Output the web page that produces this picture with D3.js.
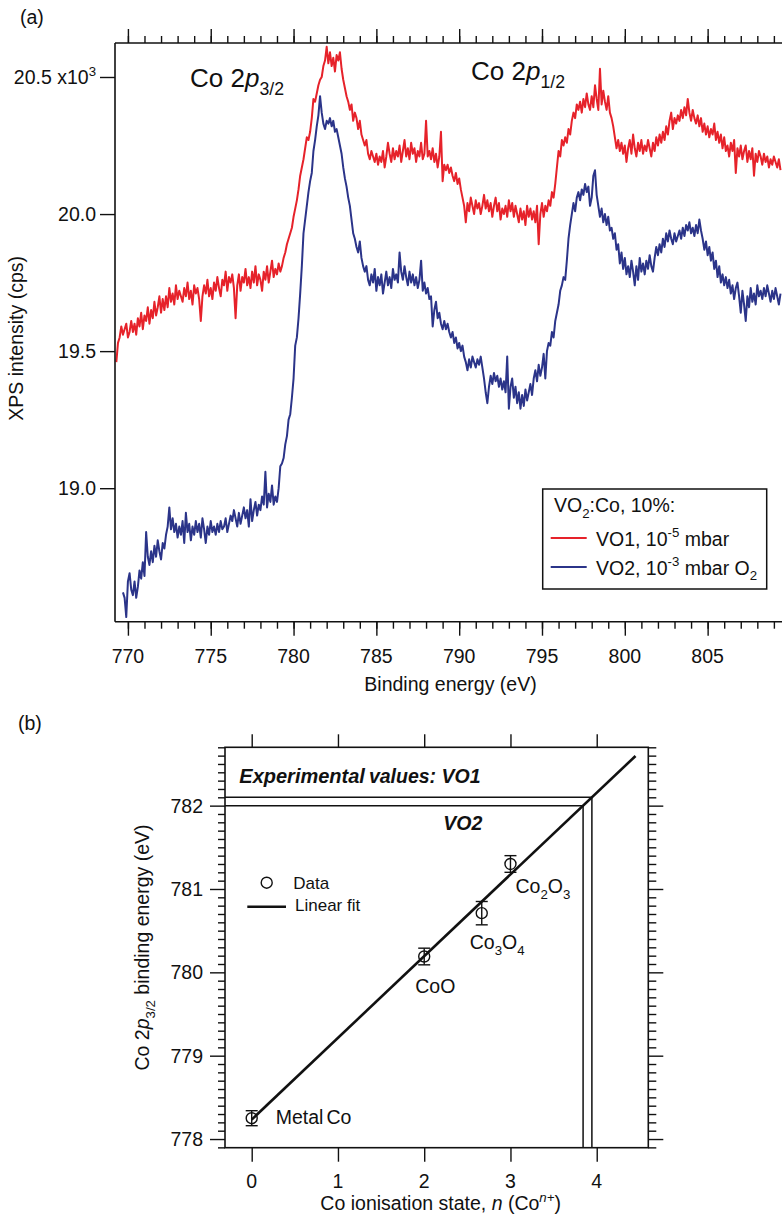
<!DOCTYPE html>
<html><head><meta charset="utf-8">
<script src="https://cdn.jsdelivr.net/npm/d3@7"></script>
<style>
body{margin:0;background:#fff;}
svg{display:block;font-family:"Liberation Sans",Arial,Helvetica,sans-serif;}
</style></head><body>
<svg id="c" width="782" height="1217"></svg>
<script>
// ---------------- Panel (a) data: XPS spectra (x10^3 cps) ----------------
const energyStart = 769.3;   // eV, first sample
const energyStep = 0.1;      // eV per sample
const vo1Counts = [
19.46,19.53,19.55,19.59,19.56,19.58,19.60,19.55,19.57,19.61,
19.57,19.60,19.56,19.62,19.59,19.64,19.58,19.63,19.61,19.66,
19.60,19.65,19.62,19.68,19.63,19.66,19.70,19.64,19.69,19.65,
19.70,19.66,19.73,19.68,19.71,19.67,19.74,19.69,19.72,19.70,
19.68,19.73,19.70,19.75,19.69,19.72,19.67,19.74,19.71,19.73,
19.69,19.61,19.70,19.74,19.71,19.76,19.70,19.73,19.69,19.75,
19.72,19.77,19.73,19.70,19.76,19.74,19.79,19.72,19.77,19.75,
19.78,19.73,19.62,19.74,19.78,19.72,19.77,19.75,19.80,19.74,
19.77,19.73,19.79,19.75,19.81,19.74,19.78,19.76,19.72,19.79,
19.76,19.81,19.75,19.79,19.83,19.77,19.80,19.78,19.82,19.79,
19.81,19.84,19.86,19.89,19.91,19.93,19.95,19.99,20.02,20.05,
20.09,20.14,20.17,20.20,20.24,20.28,20.27,20.30,20.35,20.42,
20.41,20.44,20.47,20.49,20.50,20.54,20.56,20.61,20.55,20.59,
20.54,20.57,20.52,20.58,20.56,20.59,20.53,20.49,20.46,20.43,
20.41,20.38,20.40,20.34,20.37,20.35,20.31,20.34,20.29,20.27,
20.25,20.27,20.22,20.20,20.23,20.21,20.19,20.22,20.18,20.21,
20.19,20.23,20.17,20.21,20.26,20.22,20.19,20.24,20.20,20.23,
20.21,20.25,20.19,20.23,20.27,20.21,20.24,20.20,20.26,20.22,
20.24,20.19,20.23,20.21,20.26,20.20,20.22,20.34,20.21,20.23,
20.20,20.24,20.19,20.22,20.17,20.21,20.30,20.12,20.18,20.16,
20.18,20.15,20.17,20.14,20.12,20.15,20.11,20.13,20.09,20.06,
20.03,19.97,20.04,20.01,20.06,20.03,20.00,20.05,20.02,20.04,
20.00,20.03,20.07,20.02,20.05,20.01,20.04,19.99,20.03,20.06,
20.01,20.04,19.98,20.02,20.00,20.03,19.99,20.05,20.01,20.04,
19.99,20.03,20.00,19.97,20.02,19.98,20.01,19.96,20.03,19.99,
20.02,19.98,20.01,19.97,20.03,19.89,20.00,20.04,19.99,20.03,
20.01,20.05,20.03,20.08,20.06,20.11,20.17,20.23,20.21,20.27,
20.25,20.28,20.26,20.31,20.29,20.34,20.37,20.35,20.40,20.38,
20.41,20.37,20.42,20.39,20.44,20.40,20.38,20.43,20.39,20.47,
20.42,20.38,20.53,20.40,20.45,20.41,20.38,20.43,20.37,20.35,
20.32,20.28,20.24,20.27,20.23,20.26,20.22,20.25,20.19,20.24,
20.27,20.22,20.29,20.24,20.21,20.26,20.23,20.27,20.22,20.25,
20.23,20.27,20.24,20.21,20.26,20.23,20.28,20.25,20.29,20.26,
20.30,20.27,20.32,20.29,20.34,20.37,20.31,20.35,20.33,20.36,
20.34,20.38,20.35,20.39,20.36,20.42,20.37,20.34,20.38,20.35,
20.33,20.36,20.32,20.35,20.30,20.33,20.29,20.32,20.28,20.31,
20.29,20.33,20.27,20.30,20.26,20.29,20.24,20.28,20.23,20.25,
20.21,20.26,20.23,20.27,20.15,20.24,20.21,20.25,20.20,20.23,
20.25,20.19,20.23,20.20,20.24,20.14,20.22,20.19,20.23,20.21,
20.18,20.22,20.19,20.21,20.17,20.20,20.18,20.21,20.19,20.17,
20.20,20.16
];
const vo2Counts = [
null,null,null,null,18.62,18.60,18.53,18.66,18.69,18.63,
18.61,18.66,18.60,18.64,18.70,18.67,18.73,18.68,18.84,18.75,
18.72,18.77,18.73,18.79,18.75,18.81,18.77,18.74,18.80,18.78,
18.83,18.86,18.93,18.85,18.89,18.84,18.87,18.82,18.86,18.83,
18.88,18.80,18.91,18.84,18.87,18.81,18.86,18.83,18.88,18.84,
18.87,18.82,18.89,18.85,18.80,18.86,18.83,18.88,18.84,18.86,
18.83,18.87,18.84,18.88,18.85,18.86,18.89,18.84,18.87,18.90,
18.88,18.92,18.89,18.86,18.91,18.87,18.90,18.93,18.89,18.92,
18.86,18.96,18.88,18.92,18.95,18.90,18.94,18.92,18.97,18.94,
19.06,18.93,18.98,18.95,19.01,18.94,18.97,18.95,19.00,19.08,
19.09,19.11,19.16,19.19,19.25,19.27,19.33,19.40,19.52,19.55,
19.62,19.71,19.81,19.93,19.98,20.03,20.08,20.12,20.15,20.23,
20.27,20.32,20.36,20.43,20.37,20.33,20.31,20.34,20.33,20.35,
20.32,20.34,20.30,20.31,20.28,20.25,20.22,20.17,20.13,20.10,
20.06,20.03,19.98,19.93,19.91,19.88,19.86,19.90,19.84,19.81,
19.79,19.81,19.76,19.74,19.78,19.75,19.80,19.72,19.77,19.74,
19.78,19.71,19.75,19.79,19.74,19.77,19.73,19.80,19.76,19.78,
19.75,19.86,19.79,19.76,19.81,19.77,19.74,19.79,19.75,19.78,
19.74,19.77,19.73,19.76,19.83,19.72,19.75,19.71,19.73,19.69,
19.70,19.59,19.65,19.68,19.62,19.64,19.60,19.58,19.61,19.58,
19.60,19.57,19.55,19.57,19.53,19.55,19.51,19.53,19.50,19.52,
19.48,19.46,19.43,19.47,19.44,19.48,19.46,19.44,19.47,19.45,
19.48,19.44,19.40,19.35,19.31,19.37,19.41,19.38,19.42,19.39,
19.41,19.37,19.40,19.36,19.39,19.35,19.48,19.29,19.37,19.40,
19.33,19.37,19.31,19.35,19.29,19.34,19.30,19.36,19.32,19.35,
19.38,19.34,19.40,19.43,19.39,19.45,19.41,19.44,19.49,19.40,
19.50,19.53,19.52,19.57,19.55,19.61,19.64,19.67,19.72,19.74,
19.77,19.76,19.83,19.91,19.96,20.00,20.04,20.01,20.06,20.08,
20.05,20.09,20.07,20.11,20.08,20.10,20.03,20.06,20.14,20.16,
20.07,20.03,19.99,20.02,19.97,20.00,19.96,19.99,19.94,19.95,
19.91,19.93,19.87,19.89,19.82,19.86,19.80,19.84,19.78,19.81,
19.77,19.83,19.79,19.74,19.81,19.76,19.84,19.79,19.82,19.78,
19.83,19.80,19.85,19.81,19.79,19.84,19.88,19.85,19.89,19.86,
19.91,19.88,19.93,19.90,19.94,19.91,19.89,19.93,19.90,19.92,
19.94,19.91,19.95,19.92,19.96,19.94,19.97,19.93,19.95,19.92,
19.96,19.93,19.98,19.94,19.91,19.87,19.90,19.85,19.88,19.83,
19.86,19.80,19.83,19.77,19.81,19.75,19.78,19.74,19.77,19.73,
19.76,19.71,19.74,19.69,19.73,19.75,19.70,19.64,19.72,19.67,
19.61,19.70,19.66,19.73,19.68,19.71,19.67,19.74,19.70,19.72,
19.69,19.73,19.70,19.74,19.71,19.68,19.72,19.69,19.73,19.70,
19.67,19.71
];
const energyMajorTicks = [770, 775, 780, 785, 790, 795, 800, 805];
const energyMinorTicks = [770,771,772,773,774,775,776,777,778,779,780,781,782,783,784,785,786,787,788,789,790,791,792,793,794,795,796,797,798,799,800,801,802,803,804,805,806,807,808,809];
const intensityTicks = [19.0, 19.5, 20.0, 20.5];
const intensityTickLabels = ["19.0", "19.5", "20.0", "20.5"];
const seriesNames = ["VO1", "VO2"];

// ---------------- Panel (b) data ----------------
const oxidationStates = [0, 2, 2.667, 3];
const bindingEnergies = [778.25, 780.19, 780.71, 781.30];
const bindingErrors = [0.09, 0.10, 0.14, 0.10];
const compoundNames = ["Metal Co", "CoO", "Co3O4", "Co2O3"];
const experimentalNames = ["VO1", "VO2"];
const experimentalEnergies = [782.10, 782.00];
const oxidationTicks = [0, 1, 2, 3, 4];
const bindingTicks = [778, 779, 780, 781, 782];
const fitRange = [0, 4.45];

// ---------------- helpers ----------------
const svg = d3.select("#c");
const FONT = 19.5;
function rich(sel, parts, size){
  let cur = 0;
  parts.forEach(p=>{
    const target = p.sub ? size*0.3 : (p.sup ? -size*0.42 : 0);
    const ts = sel.append("tspan").text(p.t);
    if (target !== cur) ts.attr("dy", target - cur);
    cur = target;
    if (p.sub || p.sup) ts.attr("font-size", size*0.68);
    if (p.i) ts.attr("font-style", "italic");
    if (p.dx) ts.attr("dx", p.dx);
  });
  return sel;
}
function txt(x, y, size, anchor){
  return svg.append("text").attr("x", x).attr("y", y).attr("font-size", size)
    .attr("text-anchor", anchor || "start").attr("fill", "#111");
}

// ================= PANEL (a) =================
const xA = d3.scaleLinear().domain([769.22, 809.49]).range([115, 782]);
const yA = d3.scaleLinear().domain([18.513, 20.624]).range([621.7, 43]);
const [aL, aR] = xA.range(); const [aB, aT] = yA.range();

svg.append("defs").append("clipPath").attr("id", "clipA")
  .append("rect").attr("x", aL).attr("y", aT).attr("width", aR - aL).attr("height", aB - aT);

const energies = vo1Counts.map((_, i) => energyStart + i * energyStep);
const seriesData = [vo1Counts, vo2Counts].map(arr => arr.map((v, i) => ({e: energies[i], v})));
const seriesColors = ["#e6222a", "#2b3489"];
const lineA = d3.line().defined(d => d.v != null).x(d => xA(d.e)).y(d => yA(d.v));
const gSpec = svg.append("g").attr("clip-path", "url(#clipA)");
seriesData.forEach((s, k) => {
  gSpec.append("path").datum(s).attr("d", lineA).attr("fill", "none")
    .attr("stroke", seriesColors[k]).attr("stroke-width", 2).attr("stroke-linejoin", "round");
});

// axes (a)
function styleAxis(g){ g.select(".domain").remove(); g.selectAll("line").attr("stroke", "#111").attr("stroke-width", 1.4); g.selectAll("text").remove(); }
svg.append("g").attr("transform", `translate(0,${aB})`)
  .call(d3.axisBottom(xA).tickValues(energyMinorTicks).tickSize(7)).call(styleAxis);
svg.append("g").attr("transform", `translate(0,${aB})`)
  .call(d3.axisBottom(xA).tickValues(energyMajorTicks).tickSize(14)).call(styleAxis);
svg.append("g").attr("transform", `translate(0,${aT})`)
  .call(d3.axisTop(xA).tickValues(energyMinorTicks).tickSize(7)).call(styleAxis);
svg.append("g").attr("transform", `translate(0,${aT})`)
  .call(d3.axisTop(xA).tickValues(energyMajorTicks).tickSize(14)).call(styleAxis);
svg.append("g").attr("transform", `translate(${aL},0)`)
  .call(d3.axisLeft(yA).tickValues(intensityTicks).tickSize(15)).call(styleAxis);
// frame lines
[[aL, aT, aL, aB], [aL, aT, aR, aT], [aL, aB, aR, aB]].forEach(l => {
  svg.append("line").attr("x1", l[0]).attr("y1", l[1]).attr("x2", l[2]).attr("y2", l[3])
    .attr("stroke", "#111").attr("stroke-width", 1.6);
});
// tick labels (a)
energyMajorTicks.forEach(t => txt(xA(t), 663, FONT, "middle").text(t));
intensityTicks.forEach((t, i) => {
  const tx = txt(96, yA(t) + 6.8, FONT, "end");
  if (i === intensityTicks.length - 1) rich(tx, [{t: intensityTickLabels[i] + " x10"}, {t: "3", sup: true}], FONT);
  else tx.text(intensityTickLabels[i]);
});
txt((aL + aR) / 2 + 2, 691, FONT, "middle").text("Binding energy (eV)");
txt(0, 0, FONT, "middle").attr("transform", `translate(23,${(aT + aB) / 2 + 6}) rotate(-90)`)
  .text("XPS intensity (cps)");
txt(20, 24, FONT, "start").text("(a)");
rich(txt(190, 87, 26, "start"), [{t: "Co 2"}, {t: "p", i: true}, {t: "3/2", sub: true}], 26);
rich(txt(471, 80, 26, "start"), [{t: "Co 2"}, {t: "p", i: true}, {t: "1/2", sub: true}], 26);

// legend (a)
svg.append("rect").attr("x", 542.7).attr("y", 489).attr("width", 224).attr("height", 100)
  .attr("fill", "#fff").attr("stroke", "#111").attr("stroke-width", 1.5);
rich(txt(554, 512, FONT), [{t: "VO"}, {t: "2", sub: true}, {t: ":Co, 10%:"}], FONT);
const legParts = [
  [{t: seriesNames[0] + ", 10"}, {t: "-5", sup: true}, {t: " mbar"}],
  [{t: seriesNames[1] + ", 10"}, {t: "-3", sup: true}, {t: " mbar O"}, {t: "2", sub: true}]
];
legParts.forEach((p, k) => {
  const y = 538 + k * 29;
  svg.append("line").attr("x1", 550.7).attr("x2", 586.7).attr("y1", y).attr("y2", y)
    .attr("stroke", seriesColors[k]).attr("stroke-width", 1.8);
  rich(txt(596, y + 7.5, FONT), p, FONT);
});

// ================= PANEL (b) =================
const xB = d3.scaleLinear().domain([-0.3096, 4.598]).range([225, 648.3]);
const yB = d3.scaleLinear().domain([777.896, 782.70]).range([1147.7, 747.3]);
const [bL, bR] = xB.range(); const [bB, bT] = yB.range();
const bindingMinor = d3.range(7779, 7828).map(v => v / 10).filter(v => Math.abs(v - Math.round(v)) > 0.01);

svg.append("g").attr("transform", `translate(0,${bB})`)
  .call(d3.axisBottom(xB).tickValues(oxidationTicks).tickSize(14)).call(styleAxis);
svg.append("g").attr("transform", `translate(0,${bT})`)
  .call(d3.axisTop(xB).tickValues(oxidationTicks).tickSize(13)).call(styleAxis);
svg.append("g").attr("transform", `translate(${bL},0)`)
  .call(d3.axisLeft(yB).tickValues(bindingTicks).tickSize(15)).call(styleAxis);
svg.append("g").attr("transform", `translate(${bL},0)`)
  .call(d3.axisLeft(yB).tickValues(bindingMinor).tickSize(7)).call(styleAxis);
svg.append("g").attr("transform", `translate(${bR},0)`)
  .call(d3.axisRight(yB).tickValues(bindingTicks).tickSize(15)).call(styleAxis);
svg.append("g").attr("transform", `translate(${bR},0)`)
  .call(d3.axisRight(yB).tickValues(bindingMinor).tickSize(8)).call(styleAxis);
svg.append("rect").attr("x", bL).attr("y", bT).attr("width", bR - bL).attr("height", bB - bT)
  .attr("fill", "none").attr("stroke", "#111").attr("stroke-width", 1.6);

oxidationTicks.forEach(t => txt(xB(t), 1188, FONT, "middle").text(t));
bindingTicks.forEach(t => txt(203, yB(t) + 7, FONT, "end").text(t));
rich(txt((bL + bR) / 2 + 4, 1210, FONT, "middle"),
  [{t: "Co ionisation state, "}, {t: "n", i: true}, {t: " (Co"}, {t: "n+", sup: true, i: true}, {t: ")"}], FONT);
rich(txt(0, 0, FONT, "middle").attr("transform", `translate(149,${(bT + bB) / 2}) rotate(-90)`),
  [{t: "Co 2"}, {t: "p", i: true}, {t: "3/2", sub: true}, {t: " binding energy (eV)"}], FONT);
txt(18, 730, FONT).text("(b)");

// linear fit (least squares from the data)
const mx = d3.mean(oxidationStates), my = d3.mean(bindingEnergies);
const sxy = d3.sum(oxidationStates, (x, i) => (x - mx) * (bindingEnergies[i] - my));
const sxx = d3.sum(oxidationStates, x => (x - mx) * (x - mx));
const slope = sxy / sxx, intercept = my - slope * mx;
const fitLine = d3.line().x(d => xB(d)).y(d => yB(intercept + slope * d));
svg.append("path").datum(fitRange).attr("d", fitLine).attr("stroke", "#111")
  .attr("stroke-width", 2.6).attr("fill", "none");

// experimental values: horizontal + vertical guide lines
experimentalEnergies.forEach(E => {
  const n = (E - intercept) / slope;
  svg.append("path").attr("d", d3.line()([[bL, yB(E)], [xB(n), yB(E)], [xB(n), bB]]))
    .attr("fill", "none").attr("stroke", "#111").attr("stroke-width", 1.5);
});
const expLbl = txt(239.3, yB(experimentalEnergies[0]) - 14, 20).attr("font-weight", "bold").attr("font-style", "italic");
expLbl.append("tspan").text("Experimental");
expLbl.append("tspan").attr("dx", 4).attr("font-size", 19.5).text("values: " + experimentalNames[0]);
txt(443.3, yB(experimentalEnergies[1]) + 24.5, 19.5).attr("font-weight", "bold").attr("font-style", "italic")
  .text(experimentalNames[1]);

// data points with error bars
oxidationStates.forEach((n, i) => {
  const cx = xB(n), cy = yB(bindingEnergies[i]);
  const y1 = yB(bindingEnergies[i] - bindingErrors[i]), y2 = yB(bindingEnergies[i] + bindingErrors[i]);
  const g = svg.append("g").attr("stroke", "#111").attr("stroke-width", 1.4).attr("fill", "none");
  g.append("line").attr("x1", cx).attr("x2", cx).attr("y1", y1).attr("y2", y2);
  g.append("line").attr("x1", cx - 6).attr("x2", cx + 6).attr("y1", y1).attr("y2", y1);
  g.append("line").attr("x1", cx - 6).attr("x2", cx + 6).attr("y1", y2).attr("y2", y2);
  g.append("circle").attr("cx", cx).attr("cy", cy).attr("r", 5.5);
});
// compound labels
const compoundParts = [
  [{t: "Metal"}, {t: "Co", dx: 3}],
  [{t: "CoO"}],
  [{t: "Co"}, {t: "3", sub: true}, {t: "O"}, {t: "4", sub: true}],
  [{t: "Co"}, {t: "2", sub: true}, {t: "O"}, {t: "3", sub: true}]
];
const compoundOffsets = [[24, 6], [-9, 36], [-12, 36], [5, 29]];
oxidationStates.forEach((n, i) => {
  rich(txt(xB(n) + compoundOffsets[i][0], yB(bindingEnergies[i]) + compoundOffsets[i][1], FONT), compoundParts[i], FONT)
    .attr("data-name", compoundNames[i]);
});

// legend (b)
svg.append("circle").attr("cx", 266.7).attr("cy", 882.7).attr("r", 5.5)
  .attr("fill", "none").attr("stroke", "#111").attr("stroke-width", 1.4);
txt(293.3, 888.5, 17).text("Data");
svg.append("line").attr("x1", 247.3).attr("x2", 286).attr("y1", 906.7).attr("y2", 906.7)
  .attr("stroke", "#111").attr("stroke-width", 2.6);
txt(295, 910.5, 17).text("Linear fit");
</script>
</body></html>
